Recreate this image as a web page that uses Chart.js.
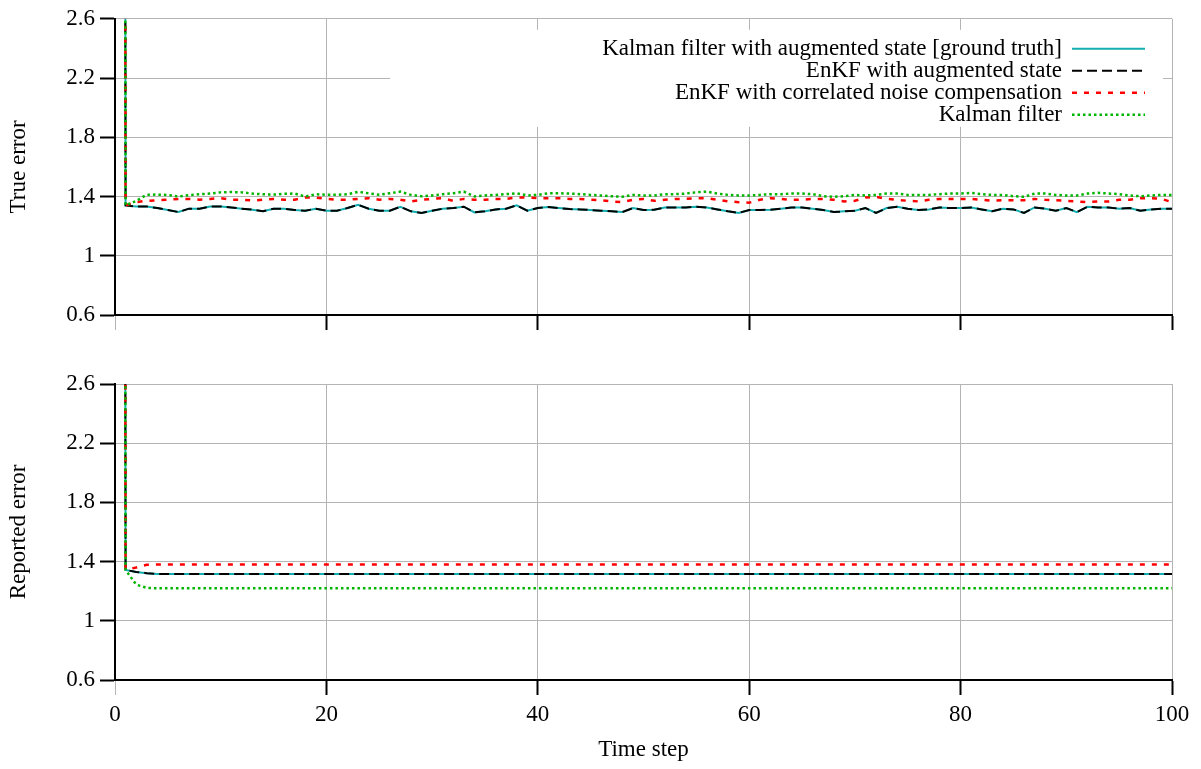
<!DOCTYPE html>
<html>
<head>
<meta charset="utf-8">
<title>Filter error</title>
<script src="https://cdn.jsdelivr.net/npm/chart.js@4"></script>
<style>
  body { margin: 0; background: #fff; }
  #wrap { position: relative; width: 1201px; height: 769px; }
  canvas { position: absolute; left: 0; }
  #trueChart { top: 0; width: 1201px; height: 345px; }
  #reportedChart { top: 345px; width: 1201px; height: 424px; }
</style>
</head>
<body>
<div id="wrap">
  <canvas id="trueChart" width="1201" height="345"></canvas>
  <canvas id="reportedChart" width="1201" height="424"></canvas>
</div>
<script>
"use strict"

// Time steps 0..100
const timeSteps = Array.from({ length: 101 }, (_, i) => i);
const xTickValues = [0, 20, 40, 60, 80, 100];
const yTickValues = [0.6, 1, 1.4, 1.8, 2.2, 2.6];

const seriesNames = [
    'Kalman filter with augmented state [ground truth]',
    'EnKF with augmented state',
    'EnKF with correlated noise compensation',
    'Kalman filter'
];

// True error per time step
const trueKalmanAug = [
    60, 1.340, 1.333, 1.333, 1.322, 1.309, 1.295, 1.318, 1.318, 1.333,
    1.333, 1.326, 1.318, 1.311, 1.300, 1.318, 1.318, 1.309, 1.304, 1.318,
    1.304, 1.304, 1.322, 1.344, 1.318, 1.304, 1.304, 1.331, 1.300, 1.289,
    1.304, 1.318, 1.322, 1.331, 1.293, 1.300, 1.313, 1.318, 1.340, 1.304,
    1.322, 1.329, 1.322, 1.315, 1.313, 1.309, 1.304, 1.300, 1.295, 1.322,
    1.309, 1.311, 1.326, 1.326, 1.326, 1.331, 1.326, 1.313, 1.300, 1.289,
    1.309, 1.309, 1.311, 1.318, 1.326, 1.326, 1.318, 1.309, 1.295, 1.300,
    1.304, 1.322, 1.289, 1.322, 1.331, 1.318, 1.309, 1.313, 1.326, 1.322,
    1.322, 1.326, 1.313, 1.300, 1.318, 1.313, 1.289, 1.326, 1.318, 1.304,
    1.322, 1.295, 1.331, 1.326, 1.326, 1.318, 1.322, 1.304, 1.313, 1.318,
    1.318
];
// the ensemble run sits on top of the exact augmented filter
const trueEnkfAug = [...trueKalmanAug];
const trueEnkfNoise = [
    60, 1.340, 1.362, 1.371, 1.375, 1.378, 1.384, 1.384, 1.378, 1.384,
    1.389, 1.378, 1.378, 1.373, 1.378, 1.384, 1.378, 1.378, 1.393, 1.393,
    1.384, 1.378, 1.378, 1.384, 1.389, 1.378, 1.384, 1.378, 1.367, 1.378,
    1.384, 1.389, 1.371, 1.384, 1.378, 1.378, 1.384, 1.384, 1.393, 1.393,
    1.389, 1.389, 1.389, 1.384, 1.384, 1.378, 1.375, 1.367, 1.362, 1.378,
    1.384, 1.371, 1.378, 1.384, 1.384, 1.389, 1.389, 1.378, 1.367, 1.362,
    1.358, 1.378, 1.389, 1.384, 1.378, 1.378, 1.384, 1.384, 1.378, 1.367,
    1.371, 1.393, 1.398, 1.384, 1.378, 1.371, 1.367, 1.378, 1.384, 1.384,
    1.384, 1.384, 1.378, 1.371, 1.375, 1.375, 1.375, 1.384, 1.378, 1.375,
    1.371, 1.367, 1.362, 1.367, 1.367, 1.378, 1.378, 1.389, 1.389, 1.384,
    1.362
];
const trueKalman = [
    60, 1.340, 1.370, 1.412, 1.413, 1.410, 1.400, 1.410, 1.415, 1.420,
    1.428, 1.430, 1.428, 1.420, 1.415, 1.413, 1.418, 1.420, 1.400, 1.415,
    1.412, 1.412, 1.415, 1.432, 1.422, 1.412, 1.422, 1.433, 1.411, 1.402,
    1.407, 1.416, 1.422, 1.433, 1.400, 1.407, 1.411, 1.416, 1.422, 1.407,
    1.411, 1.422, 1.422, 1.420, 1.416, 1.411, 1.407, 1.402, 1.398, 1.411,
    1.407, 1.407, 1.416, 1.416, 1.420, 1.429, 1.433, 1.420, 1.411, 1.407,
    1.407, 1.411, 1.416, 1.416, 1.420, 1.420, 1.416, 1.402, 1.398, 1.402,
    1.411, 1.407, 1.411, 1.420, 1.420, 1.411, 1.411, 1.411, 1.416, 1.420,
    1.420, 1.425, 1.416, 1.411, 1.411, 1.402, 1.398, 1.420, 1.420, 1.411,
    1.407, 1.407, 1.420, 1.425, 1.420, 1.416, 1.407, 1.402, 1.407, 1.411,
    1.411
];

// Reported (filter-estimated) error per time step
const repKalmanAug = [
    60, 1.344, 1.330, 1.322, 1.317, 1.317, 1.317, 1.317, 1.317, 1.317,
    1.317, 1.317, 1.317, 1.317, 1.317, 1.317, 1.317, 1.317, 1.317, 1.317,
    1.317, 1.317, 1.317, 1.317, 1.317, 1.317, 1.317, 1.317, 1.317, 1.317,
    1.317, 1.317, 1.317, 1.317, 1.317, 1.317, 1.317, 1.317, 1.317, 1.317,
    1.317, 1.317, 1.317, 1.317, 1.317, 1.317, 1.317, 1.317, 1.317, 1.317,
    1.317, 1.317, 1.317, 1.317, 1.317, 1.317, 1.317, 1.317, 1.317, 1.317,
    1.317, 1.317, 1.317, 1.317, 1.317, 1.317, 1.317, 1.317, 1.317, 1.317,
    1.317, 1.317, 1.317, 1.317, 1.317, 1.317, 1.317, 1.317, 1.317, 1.317,
    1.317, 1.317, 1.317, 1.317, 1.317, 1.317, 1.317, 1.317, 1.317, 1.317,
    1.317, 1.317, 1.317, 1.317, 1.317, 1.317, 1.317, 1.317, 1.317, 1.317,
    1.317
];
const repEnkfAug = [...repKalmanAug];
const repEnkfNoise = [
    60, 1.344, 1.360, 1.378, 1.380, 1.380, 1.380, 1.380, 1.380, 1.380,
    1.380, 1.380, 1.380, 1.380, 1.380, 1.380, 1.380, 1.380, 1.380, 1.380,
    1.380, 1.380, 1.380, 1.380, 1.380, 1.380, 1.380, 1.380, 1.380, 1.380,
    1.380, 1.380, 1.380, 1.380, 1.380, 1.380, 1.380, 1.380, 1.380, 1.380,
    1.380, 1.380, 1.380, 1.380, 1.380, 1.380, 1.380, 1.380, 1.380, 1.380,
    1.380, 1.380, 1.380, 1.380, 1.380, 1.380, 1.380, 1.380, 1.380, 1.380,
    1.380, 1.380, 1.380, 1.380, 1.380, 1.380, 1.380, 1.380, 1.380, 1.380,
    1.380, 1.380, 1.380, 1.380, 1.380, 1.380, 1.380, 1.380, 1.380, 1.380,
    1.380, 1.380, 1.380, 1.380, 1.380, 1.380, 1.380, 1.380, 1.380, 1.380,
    1.380, 1.380, 1.380, 1.380, 1.380, 1.380, 1.380, 1.380, 1.380, 1.380,
    1.380
];
const repKalman = [
    60, 1.344, 1.245, 1.222, 1.220, 1.220, 1.220, 1.220, 1.220, 1.220,
    1.220, 1.220, 1.220, 1.220, 1.220, 1.220, 1.220, 1.220, 1.220, 1.220,
    1.220, 1.220, 1.220, 1.220, 1.220, 1.220, 1.220, 1.220, 1.220, 1.220,
    1.220, 1.220, 1.220, 1.220, 1.220, 1.220, 1.220, 1.220, 1.220, 1.220,
    1.220, 1.220, 1.220, 1.220, 1.220, 1.220, 1.220, 1.220, 1.220, 1.220,
    1.220, 1.220, 1.220, 1.220, 1.220, 1.220, 1.220, 1.220, 1.220, 1.220,
    1.220, 1.220, 1.220, 1.220, 1.220, 1.220, 1.220, 1.220, 1.220, 1.220,
    1.220, 1.220, 1.220, 1.220, 1.220, 1.220, 1.220, 1.220, 1.220, 1.220,
    1.220, 1.220, 1.220, 1.220, 1.220, 1.220, 1.220, 1.220, 1.220, 1.220,
    1.220, 1.220, 1.220, 1.220, 1.220, 1.220, 1.220, 1.220, 1.220, 1.220,
    1.220
];

// Line styles, same order as seriesNames
const seriesColors = ['#14aeb0', '#000000', '#ff0000', '#00b400'];
const seriesDash = [[], [10, 5], [5, 7], [2.5, 3]];
const seriesWidths = [2, 2, 2.5, 2.5];

const GRID = '#b4b4b4';

Chart.defaults.font.family = "'Liberation Serif', 'DejaVu Serif', serif";
Chart.defaults.font.size = 23;
Chart.defaults.color = '#000';

// Key box in the upper right: text right-aligned, line sample after it
const keyPlugin = {
    id: 'key',
    beforeDatasetsDraw(chart) {
        const ctx = chart.ctx;
        const area = chart.chartArea;
        ctx.save();
        ctx.fillStyle = '#fff';
        ctx.fillRect(390, area.top + 11, area.right - 9 - 390, 97);
        ctx.font = "23px 'Liberation Serif'";
        ctx.textAlign = 'right';
        ctx.textBaseline = 'middle';
        seriesNames.forEach((name, i) => {
            const ds = chart.data.datasets[i];
            const y = area.top + 30 + i * 22;
            ctx.fillStyle = '#000';
            ctx.fillText(name, 1062, y);
            ctx.strokeStyle = ds.borderColor;
            ctx.lineWidth = ds.borderWidth;
            ctx.setLineDash(ds.borderDash);
            ctx.beginPath();
            ctx.moveTo(1072, y);
            ctx.lineTo(1145, y);
            ctx.stroke();
        });
        ctx.restore();
    }
};

function buildDatasets(valueLists) {
    return valueLists.map((vals, i) => ({
        label: seriesNames[i],
        data: vals.map((v, k) => ({ x: timeSteps[k], y: v })),
        borderColor: seriesColors[i],
        borderDash: seriesDash[i],
        borderWidth: seriesWidths[i],
        pointRadius: 0,
        tension: 0,
        fill: false,
        order: valueLists.length - i
    }));
}

function xAxis(showLabels, height) {
    return {
        type: 'linear',
        min: 0,
        max: 100,
        afterBuildTicks: (s) => { s.ticks = xTickValues.map((v) => ({ value: v })); },
        afterFit: (s) => { s.height = height; },
        grid: {
            color: GRID,
            lineWidth: 1,
            tickLength: 15,
            tickColor: (c) => (c.tick && c.tick.value === 0) ? GRID : '#000',
            tickWidth: (c) => (c.tick && c.tick.value === 0) ? 1 : 2
        },
        border: { color: '#000', width: 2 },
        ticks: { display: showLabels, padding: 6, maxRotation: 0 },
        title: { display: showLabels, text: 'Time step', padding: { top: 0, bottom: 5 } }
    };
}

function yAxis(title) {
    return {
        type: 'linear',
        min: 0.6,
        max: 2.6,
        afterBuildTicks: (s) => { s.ticks = yTickValues.map((v) => ({ value: v })); },
        afterFit: (s) => { s.width = 115; },
        grid: { color: GRID, lineWidth: 1, tickLength: 15, tickColor: '#000', tickWidth: 2 },
        border: { color: '#000', width: 2 },
        ticks: { padding: 5, callback: (v) => String(v) },
        title: { display: true, text: title, padding: { top: 5, bottom: 0 } }
    };
}

function drawPanel(canvasId, valueLists, yTitle, showXLabels, padTop, xHeight, plugins) {
    new Chart(document.getElementById(canvasId), {
        type: 'line',
        data: { datasets: buildDatasets(valueLists) },
        options: {
            responsive: false,
            animation: false,
            layout: { padding: { top: padTop, right: 29, bottom: 0, left: 0 } },
            scales: {
                x: xAxis(showXLabels, xHeight),
                y: yAxis(yTitle)
            },
            plugins: {
                legend: { display: false },
                tooltip: { enabled: false }
            }
        },
        plugins: plugins
    });
}

drawPanel('trueChart', [trueKalmanAug, trueEnkfAug, trueEnkfNoise, trueKalman],
    'True error', false, 16, 30, [keyPlugin]);
drawPanel('reportedChart', [repKalmanAug, repEnkfAug, repEnkfNoise, repKalman],
    'Reported error', true, 39, 89, []);
</script>
</body>
</html>
